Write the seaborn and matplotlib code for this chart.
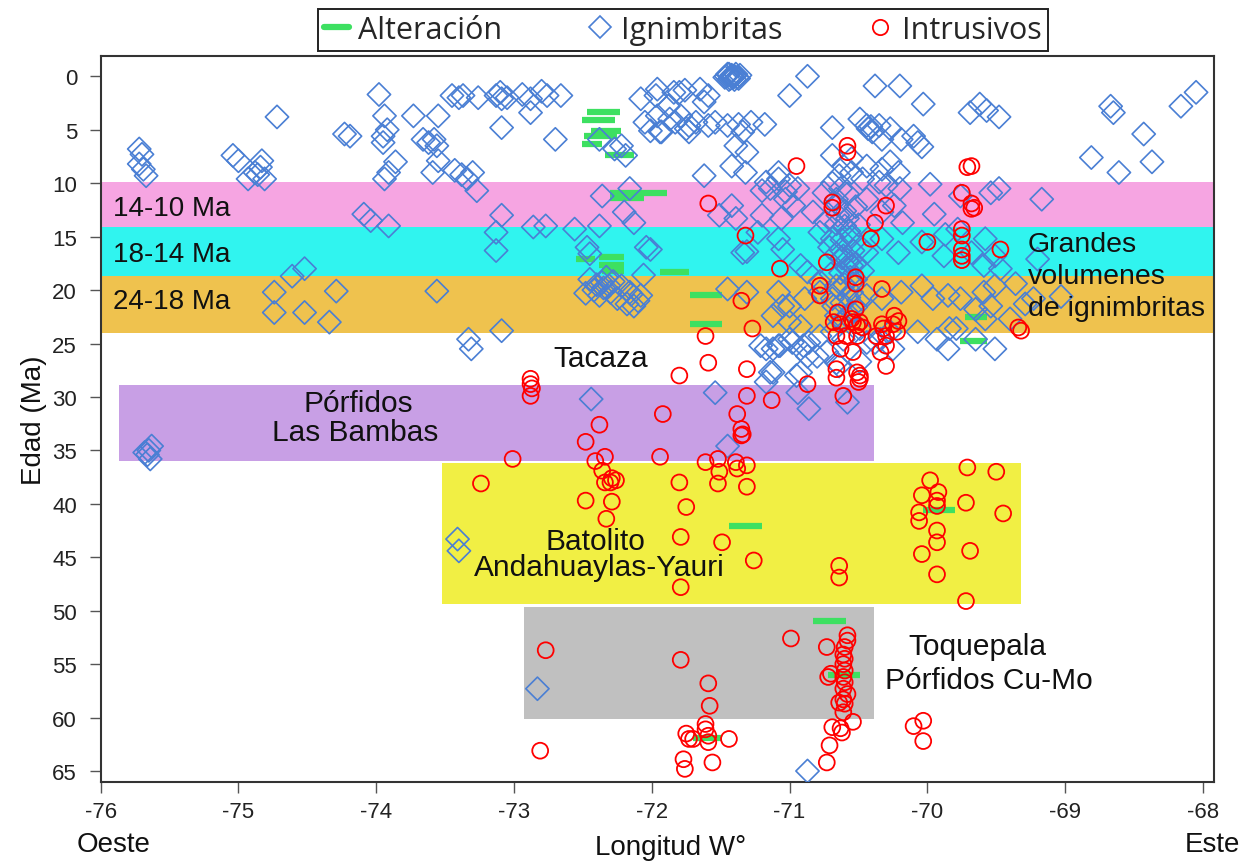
import numpy as np
import pandas as pd
import matplotlib
matplotlib.use("Agg")
import matplotlib.pyplot as plt
from matplotlib.lines import Line2D
import seaborn as sns

# Ignimbritas (longitud, edad Ma)
ignimbritas = [
    (-75.72, 6.8), (-75.70, 7.3), (-75.72, 8.2), (-75.69, 8.7), (-75.67, 9.3),
    (-75.04, 7.4), (-75.00, 7.9),
    (-74.83, 7.9), (-74.84, 8.5), (-74.88, 9.0), (-74.86, 9.2), (-74.93, 9.6), (-74.81, 9.6),
    (-74.72, 3.8), (-74.23, 5.4), (-74.19, 5.6),
    (-73.98, 1.7), (-73.94, 3.7), (-73.92, 5.0), (-73.95, 5.6), (-73.95, 6.2),
    (-73.73, 3.7), (-73.55, 3.7), (-73.66, 5.9), (-73.58, 5.9), (-73.62, 6.2), (-73.56, 6.5),
    (-73.86, 8.0), (-73.91, 9.0), (-73.94, 9.6), (-73.55, 7.9),
    (-73.59, 9.0), (-73.43, 8.8), (-73.38, 9.2), (-73.30, 9.0), (-73.34, 9.6), (-73.27, 10.7),
    (-73.45, 1.8), (-73.40, 2.0), (-73.37, 1.8), (-73.26, 2.0), (-73.13, 1.8), (-73.10, 1.5),
    (-73.09, 2.1), (-73.05, 2.0), (-72.94, 1.7), (-72.88, 2.1), (-72.80, 1.4), (-72.76, 1.8),
    (-72.66, 1.8), (-73.09, 4.8), (-72.88, 3.4), (-72.70, 5.9),
    (-74.09, 12.9), (-74.04, 13.5), (-73.91, 14.0),
    (-73.09, 13.0), (-73.13, 14.6), (-73.13, 16.3), (-72.86, 14.1), (-72.77, 14.0),
    (-72.56, 14.3), (-72.38, 14.0), (-72.36, 11.2), (-72.16, 10.5), (-72.20, 12.7),
    (-72.13, 13.7), (-72.04, 16.0), (-72.47, 16.0), (-72.45, 16.6),
    (-74.61, 18.7), (-74.52, 18.0), (-74.74, 20.2), (-74.74, 22.1), (-74.52, 22.1),
    (-74.34, 23.0), (-74.29, 20.1), (-73.56, 20.1),
    (-72.45, 19.0), (-72.40, 19.5), (-72.35, 19.8), (-72.30, 20.2), (-72.38, 20.5),
    (-72.42, 20.0), (-72.28, 19.2), (-72.22, 19.6), (-72.15, 20.4), (-72.10, 21.0),
    (-72.33, 18.8), (-72.25, 20.8), (-72.48, 20.3), (-72.18, 21.3), (-72.06, 18.6),
    (-72.16, 20.2), (-72.08, 20.5), (-72.13, 21.5), (-72.36, 19.3), (-72.31, 19.6),
    (-73.33, 24.6), (-73.31, 25.5), (-73.09, 23.8),
    (-75.65, 35.0), (-75.63, 34.6), (-75.66, 35.4), (-75.64, 35.8), (-75.68, 35.2),
    (-72.44, 30.2), (-73.41, 43.3), (-73.40, 44.4), (-72.83, 57.3), (-70.87, 65.0),
    (-71.45, -0.2), (-71.40, 0.0), (-71.43, 0.2), (-71.38, 0.1), (-71.47, 0.1),
    (-71.42, -0.1), (-71.44, 0.3), (-71.36, -0.1), (-71.41, 0.1), (-71.39, -0.2),
    (-71.46, 0.0), (-71.42, 0.0), (-71.37, 0.2), (-71.44, -0.2), (-71.40, 0.3),
    (-70.87, 0.0), (-71.00, 1.8), (-70.38, 0.9), (-70.20, 0.9), (-70.03, 2.6),
    (-71.96, 1.2), (-71.84, 1.5), (-71.76, 1.3), (-71.65, 1.2), (-71.59, 1.8), (-71.62, 2.4),
    (-72.08, 2.1), (-71.97, 1.8), (-71.88, 2.8), (-71.80, 1.5),
    (-71.96, 3.7), (-71.87, 4.0), (-71.79, 3.7), (-71.73, 4.6), (-71.68, 4.3), (-71.59, 4.6),
    (-71.54, 4.3), (-71.45, 4.6), (-71.37, 4.5), (-71.28, 4.3), (-71.18, 4.5),
    (-72.05, 4.3), (-71.94, 5.2), (-71.83, 4.3), (-71.75, 4.9),
    (-72.01, 5.1), (-71.93, 5.2), (-71.73, 5.2), (-71.34, 5.2), (-71.39, 6.5), (-71.31, 7.1),
    (-71.42, 8.4), (-71.62, 9.3), (-71.32, 9.0),
    (-72.38, 5.9), (-72.27, 6.8), (-72.19, 7.4), (-72.22, 6.5),
    (-71.08, 9.6), (-71.00, 10.2), (-71.14, 10.5), (-71.20, 10.7), (-71.03, 11.5),
    (-70.94, 10.5), (-71.17, 9.9), (-71.08, 9.0), (-71.03, 10.8),
    (-70.69, 4.8), (-70.49, 4.0), (-70.44, 4.6), (-70.41, 4.7), (-70.43, 4.9), (-70.40, 5.2),
    (-70.35, 4.6), (-70.27, 4.9), (-70.33, 5.9), (-70.19, 5.9), (-70.07, 6.2), (-70.04, 6.6),
    (-70.10, 5.6),
    (-70.69, 7.4), (-70.61, 8.4), (-70.55, 7.7), (-70.44, 8.4), (-70.33, 8.7), (-70.27, 8.0),
    (-70.21, 9.0), (-70.47, 9.6), (-70.35, 9.9), (-70.30, 10.2),
    (-69.69, 3.4), (-69.62, 2.6), (-69.57, 3.2), (-69.48, 3.8), (-68.67, 2.8), (-68.65, 3.4),
    (-68.43, 5.4), (-68.81, 7.6), (-68.61, 9.0), (-68.37, 8.0), (-68.16, 2.8), (-68.05, 1.5),
    (-69.48, 10.5), (-69.17, 11.5),
    (-71.51, 13.0), (-71.42, 12.1), (-71.39, 13.3), (-71.20, 13.0), (-71.06, 13.3),
    (-70.97, 12.1), (-70.83, 12.7), (-70.75, 10.9), (-70.66, 11.5), (-70.58, 13.3),
    (-70.44, 11.5), (-70.33, 12.7), (-70.24, 12.1), (-70.18, 13.7), (-69.54, 10.9),
    (-69.76, 11.2), (-69.98, 10.1), (-70.20, 10.5), (-69.95, 12.9),
    (-72.01, 16.2), (-71.34, 16.5), (-71.23, 14.6), (-71.08, 15.2), (-70.78, 14.6),
    (-70.69, 15.2), (-70.63, 16.2), (-70.61, 16.8), (-70.55, 17.7), (-70.44, 16.5),
    (-70.33, 15.2), (-70.21, 16.5), (-70.04, 15.5), (-69.88, 16.8), (-69.68, 16.5),
    (-69.59, 17.7), (-69.20, 17.1), (-69.87, 14.8), (-69.78, 14.3), (-69.58, 15.2),
    (-69.51, 16.8), (-69.47, 18.0), (-71.05, 16.2), (-71.31, 16.4), (-70.92, 17.7),
    (-70.87, 18.3),
    (-71.45, 19.9), (-71.31, 20.2), (-71.08, 20.2), (-71.00, 21.5), (-70.89, 20.8),
    (-70.78, 20.2), (-70.66, 19.6), (-70.69, 20.8), (-70.55, 20.2), (-70.44, 20.5),
    (-70.33, 20.8), (-70.19, 20.2), (-70.04, 19.6), (-69.96, 20.8), (-69.85, 20.5),
    (-69.76, 20.8), (-69.59, 20.2), (-69.51, 19.6), (-69.54, 21.5), (-69.23, 20.8),
    (-69.36, 19.4), (-69.65, 21.8), (-69.58, 22.7), (-69.84, 23.6), (-69.40, 22.7),
    (-69.29, 21.3), (-69.03, 20.6),
    (-70.78, 19.2), (-71.05, 21.5), (-71.12, 22.4), (-71.00, 23.0), (-70.92, 23.4),
    (-70.65, 13.0), (-70.60, 14.0), (-70.55, 15.0), (-70.62, 17.0), (-70.58, 18.0),
    (-70.52, 19.0), (-70.60, 19.5), (-70.68, 21.5), (-70.55, 22.0), (-70.62, 23.0),
    (-70.50, 21.0), (-70.57, 14.5), (-70.65, 12.0), (-70.48, 16.0), (-70.70, 18.5),
    (-70.52, 17.5), (-70.63, 10.5), (-70.58, 11.0), (-70.52, 12.2), (-70.60, 12.6),
    (-70.66, 13.8), (-70.50, 13.9), (-70.62, 15.3), (-70.54, 16.3), (-70.66, 16.6),
    (-70.58, 17.2), (-70.63, 18.4), (-70.56, 18.8), (-70.64, 19.9), (-70.57, 20.7),
    (-70.62, 21.2), (-70.52, 21.6), (-70.58, 22.5), (-70.66, 22.4), (-70.71, 16.0),
    (-70.74, 13.6), (-70.47, 18.2), (-70.69, 10.0), (-70.55, 9.0), (-70.64, 9.3),
    (-71.21, 25.2), (-71.12, 25.5), (-71.07, 25.2), (-70.98, 24.9), (-70.90, 25.2),
    (-70.87, 26.2), (-70.80, 26.2), (-70.73, 25.8), (-71.12, 27.7), (-70.95, 28.0),
    (-70.64, 27.1), (-70.49, 26.7), (-70.44, 24.9), (-70.34, 24.6), (-70.25, 25.5),
    (-71.17, 25.5), (-71.08, 25.2), (-71.00, 24.6), (-70.92, 25.5), (-70.86, 24.9),
    (-70.78, 24.3), (-70.69, 23.9), (-70.61, 24.6), (-70.49, 23.6), (-70.38, 24.9),
    (-70.27, 23.9), (-70.07, 23.9), (-69.93, 24.6), (-69.85, 25.5), (-69.79, 23.6),
    (-69.65, 24.6), (-69.51, 25.5),
    (-71.14, 27.7), (-70.92, 27.7), (-71.17, 28.6), (-70.94, 29.6), (-70.86, 31.1),
    (-71.54, 29.6), (-71.45, 34.6), (-70.66, 26.8), (-70.58, 30.5),
]

# Intrusivos (longitud, edad Ma)
intrusivos = [
    (-70.58, 6.5), (-70.58, 7.1), (-70.95, 8.4), (-69.68, 8.4), (-69.71, 8.5),
    (-71.59, 11.9), (-70.69, 11.8), (-70.69, 12.3), (-70.30, 12.1), (-69.75, 10.9),
    (-69.68, 11.9), (-69.66, 12.3), (-69.68, 12.4),
    (-70.38, 13.7), (-71.32, 14.9), (-70.41, 15.2), (-70.00, 15.5), (-69.75, 14.3),
    (-69.75, 14.9), (-69.75, 16.2), (-69.75, 16.8), (-69.75, 17.2), (-69.47, 16.2),
    (-71.07, 18.0), (-70.73, 17.4), (-70.78, 19.6), (-70.78, 20.5), (-70.52, 18.8),
    (-70.52, 19.4), (-70.33, 19.9), (-71.35, 21.0),
    (-70.65, 22.1), (-70.52, 21.8), (-70.55, 22.7), (-70.49, 23.0), (-70.24, 22.4),
    (-70.21, 22.9), (-70.33, 23.2), (-69.34, 23.5), (-69.32, 23.8), (-71.27, 23.6),
    (-71.61, 24.3), (-71.59, 26.8), (-71.31, 27.4), (-71.80, 28.0),
    (-70.68, 23.0), (-70.63, 23.2), (-70.54, 23.0), (-70.51, 23.3), (-70.47, 23.5),
    (-70.32, 23.6), (-70.25, 23.2), (-70.66, 24.3), (-70.59, 24.3), (-70.51, 24.3),
    (-70.37, 24.3), (-70.30, 24.3), (-70.22, 23.9), (-70.30, 25.2),
    (-70.63, 25.5), (-70.54, 25.8), (-70.34, 25.8), (-70.30, 27.1), (-70.66, 27.4),
    (-70.66, 28.2), (-70.51, 27.7), (-70.49, 28.0), (-70.49, 28.3), (-70.50, 28.6),
    (-70.87, 28.8), (-70.61, 29.9),
    (-71.13, 30.3), (-71.31, 29.9), (-71.92, 31.6), (-71.38, 31.6), (-71.35, 33.0),
    (-71.34, 33.5), (-71.35, 33.6),
    (-72.88, 28.3), (-72.88, 28.8), (-72.87, 29.2), (-72.88, 29.9), (-72.38, 32.6),
    (-72.48, 34.2), (-73.01, 35.8),
    (-72.41, 36.0), (-72.34, 35.6), (-72.36, 36.9), (-72.34, 38.0), (-72.30, 38.0),
    (-72.26, 37.8), (-72.29, 37.6), (-73.24, 38.1), (-72.48, 39.7), (-72.29, 39.8),
    (-72.33, 41.4),
    (-71.94, 35.6), (-71.61, 36.1), (-71.52, 35.8), (-71.51, 37.0), (-71.39, 36.1),
    (-71.38, 36.7), (-71.31, 36.4), (-71.80, 38.0), (-71.52, 38.1), (-71.31, 38.4),
    (-71.75, 40.3), (-71.79, 43.1), (-71.49, 43.6), (-71.26, 45.3), (-71.79, 47.8),
    (-70.64, 45.8), (-70.64, 46.9),
    (-69.71, 36.6), (-69.50, 37.0), (-69.98, 37.8), (-70.04, 39.2), (-69.92, 38.9),
    (-69.93, 39.7), (-69.93, 40.2), (-70.06, 40.8), (-70.06, 41.6), (-69.72, 39.9),
    (-69.45, 40.9), (-69.93, 42.5), (-69.93, 43.6), (-70.04, 44.7), (-69.69, 44.4),
    (-69.93, 46.6), (-69.72, 49.1),
    (-72.77, 53.7), (-72.81, 63.1), (-71.79, 54.6), (-71.75, 61.5), (-71.73, 62.0),
    (-71.77, 63.9), (-71.76, 64.8), (-70.99, 52.6), (-70.73, 53.4),
    (-70.58, 52.3), (-70.58, 52.8), (-70.60, 53.4), (-70.61, 54.1), (-70.60, 54.5),
    (-70.61, 55.0), (-70.60, 55.6), (-70.61, 56.2), (-70.60, 56.7), (-70.61, 57.3),
    (-70.58, 57.8), (-70.61, 58.3), (-70.60, 58.7), (-70.64, 58.6), (-70.61, 59.5),
    (-70.70, 55.9), (-70.72, 56.2),
    (-71.59, 56.8), (-71.58, 58.9), (-71.61, 60.6), (-71.61, 61.1), (-71.59, 61.7),
    (-71.59, 62.3), (-71.70, 62.0), (-71.44, 62.0), (-71.56, 64.2),
    (-70.54, 60.4), (-70.69, 60.9), (-70.63, 61.0), (-70.62, 61.4), (-70.71, 62.6),
    (-70.73, 64.2), (-70.03, 60.3), (-70.10, 60.8), (-70.03, 62.2),
]

# Alteración: tramos de longitud a una edad
alt_oeste = [-72.47, -72.51, -72.44, -72.49, -72.51, -72.34, -72.30, -72.30, -72.55, -72.38,
             -72.38, -72.36, -71.94, -71.72, -71.72, -69.73, -69.76, -71.44, -70.03, -70.83,
             -70.72, -71.70]
alt_este = [-72.23, -72.27, -72.22, -72.25, -72.36, -72.13, -71.89, -72.06, -72.41, -72.20,
            -72.20, -72.20, -71.73, -71.49, -71.49, -69.57, -69.57, -71.20, -69.80, -70.59,
            -70.49, -71.49]
alt_edad = [3.3, 4.1, 5.1, 5.6, 6.3, 7.4, 10.9, 11.4, 17.1, 16.9,
            17.7, 18.2, 18.3, 20.5, 23.2, 22.5, 24.8, 42.1, 40.6, 51.0,
            56.0, 61.9]

# Franjas de edad / dominios
franja_sup = [9.9, 14.1, 18.7, 28.9, 36.2, 49.7]
franja_inf = [14.1, 18.7, 24.0, 36.0, 49.4, 60.1]
franja_oeste = [-76.0, -76.0, -76.0, -75.87, -73.52, -72.93]
franja_este = [-67.92, -67.92, -67.92, -70.39, -69.32, -70.39]
franja_color = ['#f6a5e2', '#30f4ef', '#efc24e', '#c89fe5', '#f1ef44', '#c0c0c0']

sns.set_theme(style="ticks")
plt.rcParams['font.family'] = ['Liberation Sans', 'DejaVu Sans']
plt.rcParams['axes.unicode_minus'] = False

ign = pd.DataFrame(ignimbritas, columns=['lon', 'edad'])
intr = pd.DataFrame(intrusivos, columns=['lon', 'edad'])

fig = plt.figure(figsize=(12.58, 8.62), dpi=100)
ax = fig.add_axes([0.080, 0.092, 0.885, 0.8415])

for top, bot, w, e, c in zip(franja_sup, franja_inf, franja_oeste, franja_este, franja_color):
    ax.fill_between([w, e], top, bot, color=c, lw=0, zorder=0.5)

ax.hlines(alt_edad, alt_oeste, alt_este, color='#3de061', lw=4.5, zorder=2)

blue = '#4a7fd4'
sns.scatterplot(data=ign, x='lon', y='edad', marker='D', s=140, color=blue,
                facecolors='none', edgecolor=blue, linewidth=1.2, ax=ax, zorder=3)
sns.scatterplot(data=intr, x='lon', y='edad', marker='o', s=130, color='red',
                facecolors='none', edgecolor='red', linewidth=1.3, ax=ax, zorder=4)

ax.set_xlim(-76, -67.92)
ax.set_ylim(66.0, -1.87)
ax.set_xticks(np.arange(-76, -67))
ax.set_yticks(np.arange(0, 66, 5))
ax.tick_params(direction='out', length=8, width=1, color='#555555',
               labelsize=16, labelcolor='#222222')
ax.tick_params(axis='y', pad=9)
ax.tick_params(axis='x', pad=6)
for sp in ax.spines.values():
    sp.set_visible(True)
    sp.set_color('#333333')
    sp.set_linewidth(1.5)

ax.set_xlabel('Longitud W°', fontsize=20, color='#111111')
ax.xaxis.set_label_coords(0.512, -0.072)
ax.set_ylabel('Edad (Ma)', fontsize=20, color='#111111')
ax.yaxis.set_label_coords(-0.048, 0.5)
ax.text(-0.022, -0.086, 'Oeste', transform=ax.transAxes, ha='left', va='center',
        fontsize=20, color='#111111')
ax.text(0.974, -0.086, 'Este', transform=ax.transAxes, ha='left', va='center',
        fontsize=20, color='#111111')

# etiquetas de las franjas
for lab, y in zip(['14-10 Ma', '18-14 Ma', '24-18 Ma'], [12.35, 16.6, 21.0]):
    ax.text(-75.91, y, lab, ha='left', va='center', fontsize=20, color='#111111', zorder=6)
ax.text(-69.27, 18.65, 'Grandes\nvolumenes\nde ignimbritas', ha='left', va='center',
        fontsize=20.5, linespacing=1.3, color='#111111', zorder=6)
notas = [('Tacaza', -72.37, 26.35), ('Pórfidos', -74.13, 30.6), ('Las Bambas', -74.15, 33.3),
         ('Batolito', -72.41, 43.5), ('Andahuaylas-Yauri', -72.38, 45.9),
         ('Toquepala', -69.64, 53.3), ('Pórfidos Cu-Mo', -69.55, 56.5)]
for lab, x, y in notas:
    ax.text(x, y, lab, ha='center', va='center', fontsize=21.5, color='#111111', zorder=6)

handles = [Line2D([], [], color='#3de061', lw=4.5),
           Line2D([], [], ls='none', marker='D', ms=11, mfc='none', mec=blue, mew=1.2),
           Line2D([], [], ls='none', marker='o', ms=11, mfc='none', mec='red', mew=1.3)]
leg = ax.legend(handles, ['Alteración', 'Ignimbritas', 'Intrusivos'], ncol=3,
                loc='lower center', bbox_to_anchor=(0.523, 1.007), borderaxespad=0,
                frameon=True, fancybox=False, edgecolor='#222222', framealpha=1,
                prop={'family': 'Open Sans', 'size': 22}, handlelength=0.8,
                handletextpad=0.3, columnspacing=2.8, borderpad=0.2)
leg.get_frame().set_linewidth(1.4)

fig.savefig('out.png', dpi=100)
